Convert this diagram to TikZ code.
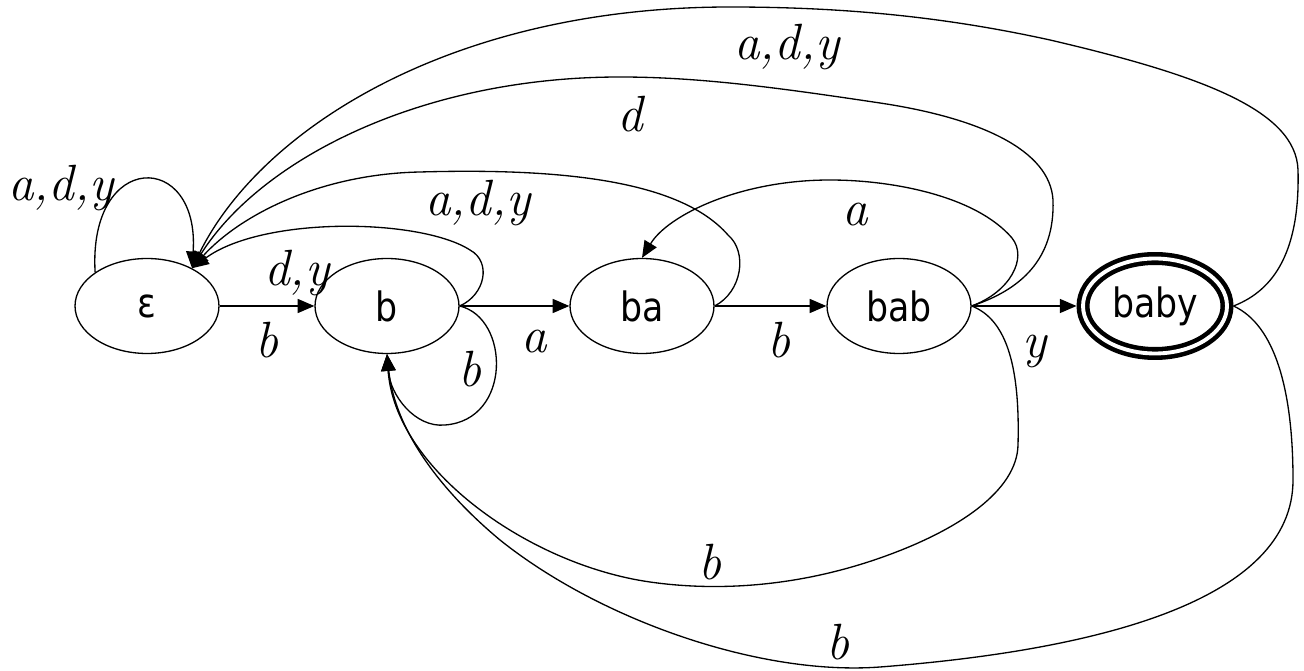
\documentclass[tikz,border=0pt]{standalone}
\usepackage{fontspec}
\newfontfamily\nodefont[FakeStretch=0.86]{DejaVu Sans}
\usetikzlibrary{arrows.meta,shapes.geometric}
\begin{document}
\begin{tikzpicture}[x=0.02cm,y=-0.02cm,line width=0.75pt,
  state/.style={ellipse,draw,minimum width=2.88cm,minimum height=1.9cm,inner sep=0pt,
    font=\nodefont\fontsize{23}{26}\selectfont},
  final/.style={state,double,double distance=2.2pt,line width=2.6pt,outer sep=3.7pt},
  lbl/.style={inner sep=0pt,font=\itshape\fontsize{29}{32}\selectfont},
  edge/.style={-{Triangle[length=9.5pt,width=8pt]},line width=0.75pt}]
\useasboundingbox (0,0) rectangle (1304,671);

\node[state] (eps) at (147,306) {ε};
\node[state] (b) at (387,306) {b};
\node[state] (ba) at (642,306) {ba};
\node[state] (bab) at (899,306) {bab};
\node[final] (baby) at (1155,306) {baby};

% straight edges
\draw[edge] (eps.east) -- (b.west);
\draw[edge] (b.east) -- (ba.west);
\draw[edge] (ba.east) -- (bab.west);
\draw[edge] (bab.east) -- (baby.west);

% eps self loop
\draw[edge] (eps.147) .. controls (88,150) and (200,150) .. (eps.40);
% b -> eps
\draw[edge] (b.east) .. controls (485,295) and (492,262) .. (470,250)
  .. controls (420,218) and (262,216) .. (eps.40);
% b self loop
\draw[edge] (b.east) .. controls (510,318) and (512,420) .. (445,425)
  .. controls (415,428) and (390,395) .. (b.south);
% ba -> eps
\draw[edge] (ba.east) .. controls (742,292) and (748,252) .. (728,235)
  .. controls (680,180) and (560,168) .. (420,172)
  .. controls (320,174) and (240,215) .. (eps.40);
% bab -> ba
\draw[edge] (bab.east) .. controls (1010,292) and (1028,258) .. (1012,238)
  .. controls (975,195) and (890,180) .. (830,180)
  .. controls (740,180) and (668,215) .. (ba.north);
% bab -> eps
\draw[edge] (bab.east) .. controls (1020,290) and (1055,260) .. (1053,200)
  .. controls (1050,150) and (980,118) .. (880,103)
  .. controls (780,88) and (700,77) .. (620,77)
  .. controls (420,77) and (260,160) .. (eps.40);
% baby -> eps
\draw[edge] (baby.east) .. controls (1275,290) and (1300,250) .. (1298,170)
  .. controls (1296,110) and (1200,75) .. (1050,40)
  .. controls (950,18) and (850,7) .. (730,7)
  .. controls (450,7) and (260,130) .. (eps.40);
% bab -> b
\draw[edge] (bab.east) .. controls (1008,320) and (1020,370) .. (1018,445)
  .. controls (1017,490) and (960,530) .. (880,558)
  .. controls (800,586) and (720,592) .. (650,582)
  .. controls (530,565) and (395,470) .. (b.south);
% baby -> b
\draw[edge] (baby.east) .. controls (1275,325) and (1293,390) .. (1293,480)
  .. controls (1293,600) and (1100,650) .. (880,667)
  .. controls (760,676) and (600,620) .. (500,540)
  .. controls (440,490) and (395,430) .. (b.south);

% labels
\node[lbl] (l1) at (61,188) {a,d,y};
\node[lbl] (l2) at (267,340) {b};
\node[lbl] (l3) at (297,273) {d,y};
\node[lbl] (l4) at (470,369) {b};
\node[lbl] (l5) at (534,342) {a};
\node[lbl] (l6) at (478,203) {a,d,y};
\node[lbl] (l7) at (779,340) {b};
\node[lbl] (l8) at (855,215) {a};
\node[lbl] (l9) at (630,114) {d};
\node[lbl] (l10) at (787,47) {a,d,y};
\node[lbl] (l11) at (1035,351) {y};
\node[lbl] (l12) at (710,562) {b};
\node[lbl] (l13) at (838,642) {b};
\end{tikzpicture}
\end{document}
